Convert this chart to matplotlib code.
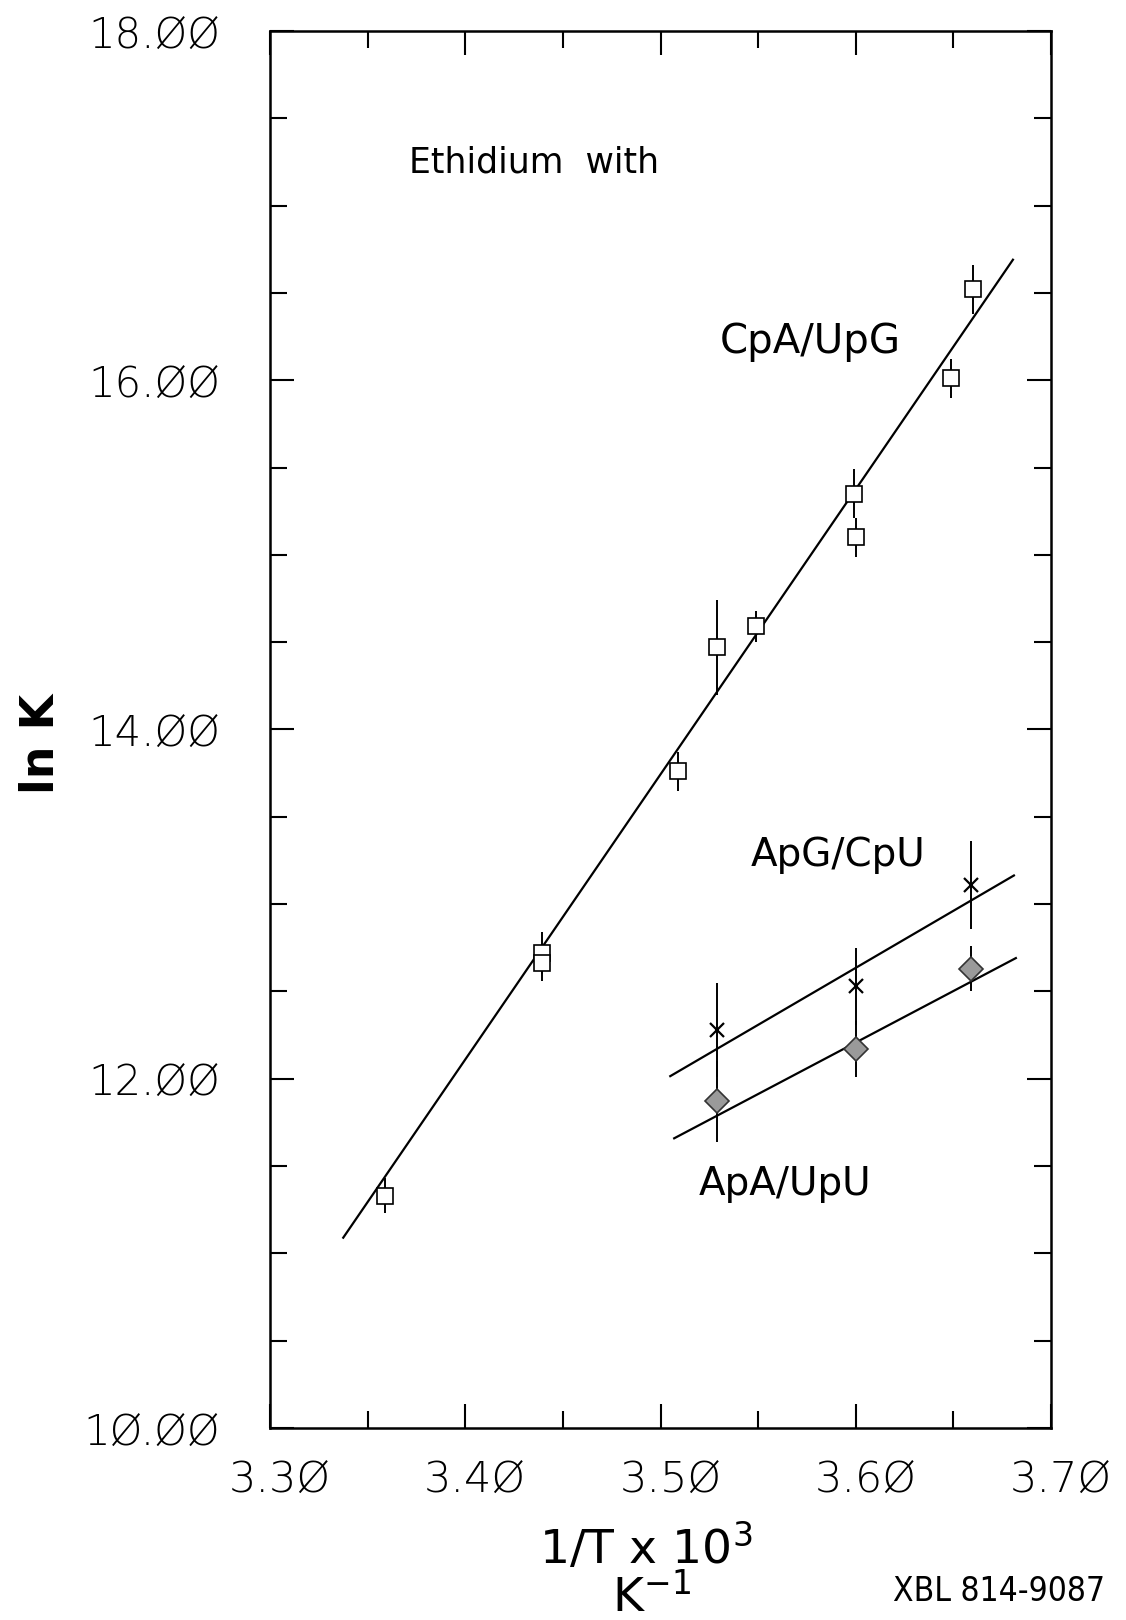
import matplotlib
matplotlib.use("Agg")
import matplotlib.pyplot as plt
import matplotlib.transforms as mtransforms
from matplotlib.ticker import MultipleLocator, FuncFormatter

# CpA/UpG (open squares)
cpa_x = [3.359, 3.4395, 3.4395, 3.509, 3.529, 3.549, 3.599, 3.600, 3.649, 3.660]
cpa_y = [11.33, 12.72, 12.66, 13.76, 14.47, 14.59, 15.35, 15.10, 16.01, 16.52]
cpa_err = [0.10, 0.12, 0.10, 0.11, 0.27, 0.09, 0.14, 0.11, 0.11, 0.14]

# ApG/CpU (crosses)
apg_x = [3.529, 3.600, 3.659]
apg_y = [12.28, 12.53, 13.11]
apg_err = [0.27, 0.22, 0.25]

# ApA/UpU (grey diamonds)
apa_x = [3.529, 3.600, 3.659]
apa_y = [11.87, 12.17, 12.63]
apa_err = [0.23, 0.16, 0.13]

# fitted lines (end points)
cpa_fit_x = [3.3375, 3.6805]
cpa_fit_y = [11.09, 16.69]
apg_fit_x = [3.505, 3.681]
apg_fit_y = [12.015, 13.164]
apa_fit_x = [3.507, 3.682]
apa_fit_y = [11.659, 12.691]

plt.rcParams['mathtext.fontset'] = 'dejavusans'

fig = plt.figure(figsize=(11.26, 16.2), dpi=100)
ax = fig.add_axes([0.2398, 0.1185, 0.6936, 0.8624])

ax.plot(cpa_fit_x, cpa_fit_y, color='black', lw=1.6)
ax.plot(apg_fit_x, apg_fit_y, color='black', lw=1.6)
ax.plot(apa_fit_x, apa_fit_y, color='black', lw=1.6)

ax.errorbar(cpa_x, cpa_y, yerr=cpa_err, fmt='s', ms=11, mfc='white', mec='black',
            mew=1.2, ecolor='black', elinewidth=1.4, capsize=0, zorder=3)
ax.errorbar(apg_x, apg_y, yerr=apg_err, fmt='x', ms=10, mec='black',
            mew=1.6, ecolor='black', elinewidth=1.4, capsize=0, zorder=3)
ax.errorbar(apa_x, apa_y, yerr=apa_err, fmt='D', ms=12, mfc='#9a9a9a', mec='#333333',
            mew=1.2, ecolor='black', elinewidth=1.4, capsize=0, zorder=3)

ax.set_xlim(3.30, 3.70)
ax.set_ylim(10.0, 18.0)
ax.xaxis.set_major_locator(MultipleLocator(0.1))
ax.xaxis.set_minor_locator(MultipleLocator(0.05))
ax.yaxis.set_major_locator(MultipleLocator(2.0))
ax.yaxis.set_minor_locator(MultipleLocator(0.5))

slashed = lambda v, pos, d=2: ('%.*f' % (d, v)).replace('0', '\u00d8')
ax.xaxis.set_major_formatter(FuncFormatter(slashed))
ax.yaxis.set_major_formatter(FuncFormatter(slashed))

ax.tick_params(which='both', direction='in', top=True, right=True, width=1.5, color='black')
ax.tick_params(which='major', length=17)
ax.tick_params(which='minor', length=12)
ax.tick_params(axis='y', pad=36)
ax.tick_params(axis='x', pad=22)
for sp in ax.spines.values():
    sp.set_linewidth(1.8)

for lab in ax.get_yticklabels():
    lab.set_fontweight('light')
    lab.set_fontsize(30)
for lab in ax.get_xticklabels():
    lab.set_fontweight('light')
    lab.set_fontsize(31)
shift = mtransforms.ScaledTranslation(10 / 100, 0, fig.dpi_scale_trans)
for lab in ax.get_xticklabels():
    lab.set_transform(lab.get_transform() + shift)

ax.text(3.435, 17.246, 'Ethidium  with', fontsize=25, ha='center', va='center')
ax.text(3.5768, 16.217, 'CpA/UpG', fontsize=29, ha='center', va='center')
ax.text(3.5911, 13.28, 'ApG/CpU', fontsize=28, ha='center', va='center')
ax.text(3.5639, 11.40, 'ApA/UpU', fontsize=28, ha='center', va='center')

fig.text(0.0366, 0.541, 'ln K', rotation=90, fontsize=33, fontweight='bold',
         ha='center', va='center')
fig.text(0.5737, 0.0444, '1/T x 10$^{3}$', fontsize=34, ha='center', va='center')
fig.text(0.5790, 0.0135, 'K$^{-1}$', fontsize=34, ha='center', va='center')
fig.text(0.887, 0.0173, 'XBL 814-9087', fontsize=24, ha='center', va='center',
         fontstretch='condensed')

fig.savefig('out.png', dpi=100)
